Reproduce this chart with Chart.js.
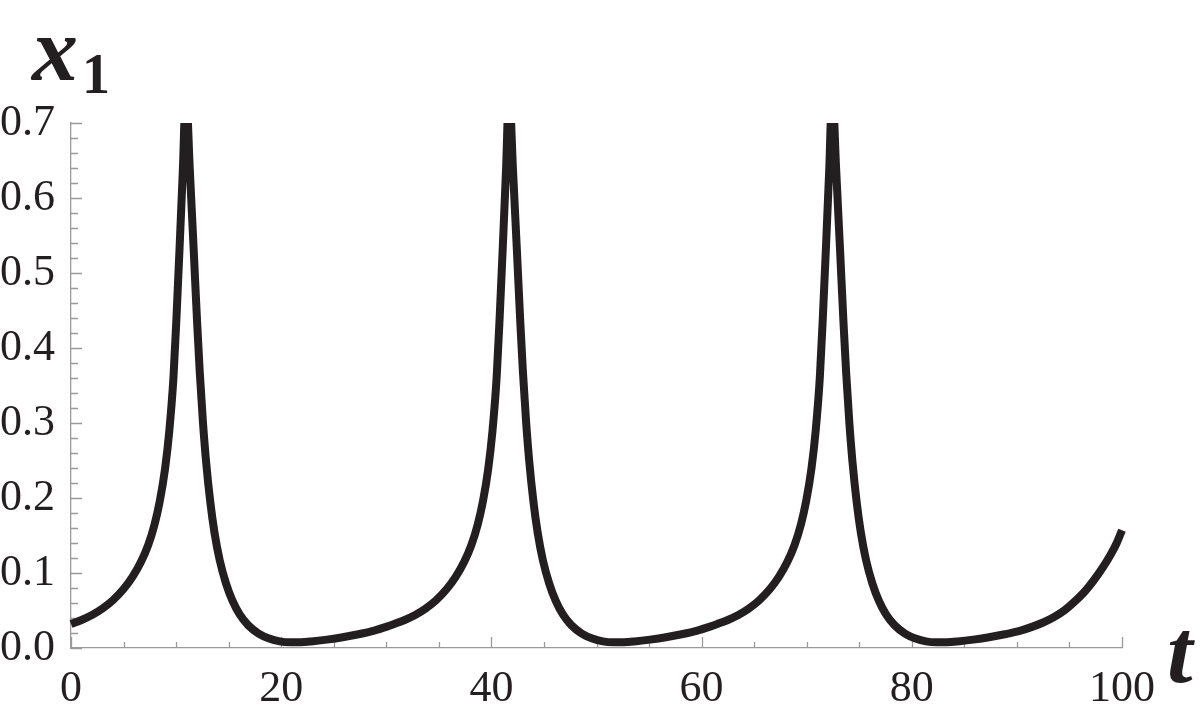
<!DOCTYPE html>
<html><head><meta charset="utf-8">
<script src="https://cdn.jsdelivr.net/npm/chart.js@4.4.0/dist/chart.umd.min.js"></script>
<style>html,body{margin:0;padding:0;background:#fff;overflow:hidden}</style>
</head><body>
<canvas id="c" width="1200" height="722"></canvas>
<script>
// time values (t)
const tValues = [
  0, 1.0, 2.0, 3.0, 4.0, 5.0, 5.85, 6.65, 7.35, 7.95, 8.45, 8.95, 9.35, 9.75, 10.05, 10.35, 10.65, 10.93,
  11.3, 11.7, 12.0, 12.25, 12.55, 12.85, 13.25, 13.65, 14.15, 14.75, 15.35, 16.05, 16.85, 17.85, 18.85,
  19.85, 20.85, 21.85, 22.85, 24.35, 25.85, 27.35, 28.85, 30.05,
  30.75, 31.75, 32.75, 33.75, 34.75, 35.75, 36.6, 37.4, 38.1, 38.7, 39.2, 39.7, 40.1, 40.5, 40.8, 41.1, 41.4, 41.68,
  42.05, 42.45, 42.75, 43.0, 43.3, 43.6, 44.0, 44.4, 44.9, 45.5, 46.1, 46.8, 47.6, 48.6, 49.6,
  50.6, 51.6, 52.6, 53.6, 55.1, 56.6, 58.1, 59.6, 60.8,
  61.5, 62.5, 63.5, 64.5, 65.5, 66.5, 67.35, 68.15, 68.85, 69.45, 69.95, 70.45, 70.85, 71.25, 71.55, 71.85, 72.15, 72.43,
  72.8, 73.2, 73.5, 73.75, 74.05, 74.35, 74.75, 75.15, 75.65, 76.25, 76.85, 77.55, 78.35, 79.35, 80.35,
  81.35, 82.35, 83.35, 84.35, 85.85, 87.35,
  88.85, 90.35, 91.5, 92.5, 93.5, 94.5, 95.5, 96.5, 97.3, 98.2, 98.9, 99.5, 100
];
// x1 values
const x1Values = [
  0.032, 0.0374, 0.0440, 0.0527, 0.0639, 0.0786, 0.0948, 0.1146, 0.1376, 0.1648, 0.196, 0.239, 0.289, 0.361, 0.445, 0.54, 0.64, 0.745,
  0.639, 0.523, 0.434, 0.368, 0.302, 0.249, 0.195, 0.154, 0.117, 0.086, 0.0635, 0.0448, 0.0305, 0.0193, 0.0127,
  0.0089, 0.0077, 0.0078, 0.0088, 0.0112, 0.0143, 0.0183, 0.0232, 0.0285,
  0.032, 0.0374, 0.0440, 0.0527, 0.0639, 0.0786, 0.0948, 0.1146, 0.1376, 0.1648, 0.196, 0.239, 0.289, 0.361, 0.445, 0.54, 0.64, 0.745,
  0.639, 0.523, 0.434, 0.368, 0.302, 0.249, 0.195, 0.154, 0.117, 0.086, 0.0635, 0.0448, 0.0305, 0.0193, 0.0127,
  0.0089, 0.0077, 0.0078, 0.0088, 0.0112, 0.0143, 0.0183, 0.0232, 0.0285,
  0.032, 0.0374, 0.0440, 0.0527, 0.0639, 0.0786, 0.0948, 0.1146, 0.1376, 0.1648, 0.196, 0.239, 0.289, 0.361, 0.445, 0.54, 0.64, 0.745,
  0.639, 0.523, 0.434, 0.368, 0.302, 0.249, 0.195, 0.154, 0.117, 0.086, 0.0635, 0.0448, 0.0305, 0.0193, 0.0127,
  0.0089, 0.0077, 0.0078, 0.0088, 0.0112, 0.0143,
  0.0183, 0.0232, 0.0285, 0.034, 0.041, 0.050, 0.062, 0.076, 0.090, 0.108, 0.124, 0.140, 0.157
];
const xTickValues = [0, 20, 40, 60, 80, 100];
const xTickLabels = ['0', '20', '40', '60', '80', '100'];
const xMinorTicks = [5, 10, 15, 25, 30, 35, 45, 50, 55, 65, 70, 75, 85, 90, 95];
const yTickValues = [0, 0.1, 0.2, 0.3, 0.4, 0.5, 0.6, 0.7];
const yTickLabels = ['0.0', '0.1', '0.2', '0.3', '0.4', '0.5', '0.6', '0.7'];
const yMinorTicks = [0.02, 0.04, 0.06, 0.08, 0.12, 0.14, 0.16, 0.18, 0.22, 0.24, 0.26, 0.28,
  0.32, 0.34, 0.36, 0.38, 0.42, 0.44, 0.46, 0.48, 0.52, 0.54, 0.56, 0.58, 0.62, 0.64, 0.66, 0.68];
const yAxisTitle = 'x';
const yAxisTitleSub = '1';
const xAxisTitle = 't';

const AXIS_COLOR = '#9a9a9a';
const INK = '#231f20';
const SERIF = "'Liberation Serif', 'Times New Roman', serif";

if (tValues.length !== x1Values.length) console.error('length mismatch', tValues.length, x1Values.length);

const tickPlugin = {
  id: 'innerTicks',
  beforeDatasetsDraw(chart) {
    const {ctx, chartArea, scales} = chart;
    const xs = scales.x, ys = scales.y;
    ctx.save();
    ctx.strokeStyle = AXIS_COLOR;
    ctx.lineWidth = 1.3;
    ctx.beginPath();
    const drawX = (v, len) => {
      const p = Math.round(xs.getPixelForValue(v)) + 0.5;
      ctx.moveTo(p, chartArea.bottom);
      ctx.lineTo(p, chartArea.bottom - len);
    };
    const drawY = (v, len) => {
      const p = Math.round(ys.getPixelForValue(v)) + 0.5;
      ctx.moveTo(chartArea.left, p);
      ctx.lineTo(chartArea.left + len, p);
    };
    xTickValues.forEach(v => drawX(v, 11));
    xMinorTicks.forEach(v => drawX(v, 6));
    yTickValues.forEach(v => drawY(v, 11));
    yMinorTicks.forEach(v => drawY(v, 7));
    ctx.stroke();
    ctx.restore();
  }
};

const titlePlugin = {
  id: 'axisTitles',
  afterDraw(chart) {
    const {ctx, chartArea} = chart;
    ctx.save();
    ctx.fillStyle = INK;
    ctx.textBaseline = 'alphabetic';
    ctx.textAlign = 'left';
    ctx.font = 'italic bold 92px ' + SERIF;
    ctx.fillText(yAxisTitle, chartArea.left - 39, chartArea.top - 43);
    ctx.font = 'bold 56px ' + SERIF;
    ctx.fillText(yAxisTitleSub, chartArea.left + 11, chartArea.top - 30);
    ctx.font = 'italic bold 92px ' + SERIF;
    ctx.fillText(xAxisTitle, chartArea.right + 45, chartArea.bottom + 34);
    ctx.restore();
  }
};

const points = tValues.map((t, i) => ({x: t, y: x1Values[i]}));

new Chart(document.getElementById('c').getContext('2d'), {
  type: 'line',
  data: {
    datasets: [{
      data: points,
      borderColor: INK,
      borderWidth: 8,
      pointRadius: 0,
      fill: false,
      cubicInterpolationMode: 'monotone',
      borderCapStyle: 'butt',
      borderJoinStyle: 'round',
      clip: {left: 10, top: 0, right: 10, bottom: 10}
    }]
  },
  options: {
    responsive: false,
    animation: false,
    devicePixelRatio: 1,
    events: [],
    layout: {padding: {left: 0, top: 123, right: 78, bottom: 0}},
    plugins: {legend: {display: false}, tooltip: {enabled: false}},
    scales: {
      x: {
        type: 'linear',
        min: 0, max: 100,
        afterBuildTicks: (s) => { s.ticks = xTickValues.map(v => ({value: v})); },
        afterFit: (s) => { s.height = 74; },
        ticks: {
          callback: (v, i) => xTickLabels[i],
          font: {family: SERIF, size: 44},
          color: INK, padding: 15, maxRotation: 0, autoSkip: false
        },
        grid: {display: false, drawTicks: false},
        border: {display: true, color: AXIS_COLOR, width: 1.3}
      },
      y: {
        type: 'linear',
        min: 0, max: 0.7,
        afterBuildTicks: (s) => { s.ticks = yTickValues.map(v => ({value: v})); },
        afterFit: (s) => { s.width = 71; },
        ticks: {
          callback: (v, i) => yTickLabels[i],
          font: {family: SERIF, size: 44},
          color: INK, padding: 16, autoSkip: false
        },
        grid: {display: false, drawTicks: false},
        border: {display: true, color: AXIS_COLOR, width: 1.3}
      }
    }
  },
  plugins: [tickPlugin, titlePlugin]
});
</script>
</body></html>
